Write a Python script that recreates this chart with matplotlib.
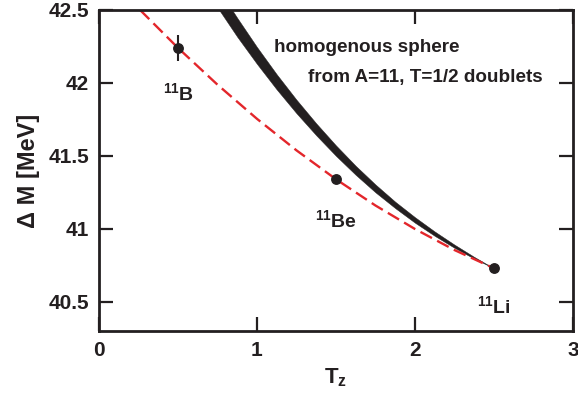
import matplotlib
matplotlib.use("Agg")
import matplotlib.pyplot as plt

# Daten
nuclei = ["B", "Be", "Li"]
tz_points = [0.5, 1.5, 2.5]
dm_points = [42.24, 41.34, 40.73]
dm_err = [0.09, 0.0, 0.0]

# rote gestrichelte Kurve durch die Messpunkte
tz_fit = [0.26, 0.5, 0.75, 1.0, 1.25, 1.5, 1.75, 2.0, 2.25, 2.5]
dm_fit = [42.50, 42.24, 41.988, 41.754, 41.538, 41.34, 41.160, 40.999, 40.855, 40.73]

# homogene Kugel (Band)
tz_band = [0.75, 0.875, 1.0, 1.125, 1.25, 1.375, 1.5, 1.625,
           1.75, 1.875, 2.0, 2.125, 2.25, 2.375, 2.5]
dm_band_upper = [42.655, 42.446, 42.246, 42.059, 41.885, 41.723, 41.572, 41.432,
                 41.304, 41.186, 41.080, 40.982, 40.892, 40.808, 40.73]
dm_band_lower = [42.517, 42.316, 42.130, 41.955, 41.792, 41.641, 41.500, 41.370,
                 41.250, 41.142, 41.042, 40.952, 40.870, 40.796, 40.73]

xticks = [0, 1, 2, 3]
yticks = [40.5, 41, 41.5, 42, 42.5]
ytick_labels = ["40.5", "41", "41.5", "42", "42.5"]

ink = "#231f20"
plt.rcParams["font.family"] = ["Liberation Sans", "DejaVu Sans"]
plt.rcParams["font.weight"] = "bold"
plt.rcParams["axes.labelweight"] = "bold"
plt.rcParams["mathtext.fontset"] = "custom"
plt.rcParams["mathtext.rm"] = "Liberation Sans:bold"
plt.rcParams["mathtext.bf"] = "Liberation Sans:bold"
plt.rcParams["mathtext.default"] = "rm"

fig = plt.figure(figsize=(5.78, 3.98), dpi=100)
ax = fig.add_axes([0.1713, 0.1683, 0.8200, 0.8066])

ax.fill_between(tz_band, dm_band_lower, dm_band_upper, color=ink, lw=0.3,
                edgecolor=ink)
ax.plot(tz_fit, dm_fit, color="#e3262b", lw=1.7, dashes=(5.5, 2.5))

ax.errorbar(tz_points, dm_points, yerr=dm_err, fmt="o", color=ink,
            markersize=6.8, elinewidth=1.5, capsize=0, zorder=5)

# Beschriftungen der Kerne
ax.text(0.50, 41.93, r"$^{11}$B", fontsize=14, color=ink, ha="center", va="center")
ax.text(1.50, 41.06, r"$^{11}$Be", fontsize=14, color=ink, ha="center", va="center")
ax.text(2.50, 40.47, r"$^{11}$Li", fontsize=14, color=ink, ha="center", va="center")

ax.text(1.105, 42.245, "homogenous sphere", fontsize=13.6, color=ink,
        ha="left", va="center")
ax.text(1.325, 42.04, "from A=11, T=1/2 doublets", fontsize=13.6, color=ink,
        ha="left", va="center")

ax.set_xlim(0, 3)
ax.set_ylim(40.3, 42.5)
ax.set_xticks(xticks)
ax.set_yticks(yticks)
ax.set_yticklabels(ytick_labels)

ax.tick_params(direction="in", length=10, width=1.6, top=True, right=True,
               labeltop=False, labelright=False, labelsize=15,
               colors=ink, pad=7)
for s in ax.spines.values():
    s.set_linewidth(2.0)
    s.set_color(ink)

ax.set_xlabel(r"T$_{z}$", fontsize=16, color=ink, labelpad=5)
ax.set_ylabel("\u0394 M [MeV]", fontsize=17, color=ink, labelpad=6)

fig.savefig("out.png", dpi=100)
